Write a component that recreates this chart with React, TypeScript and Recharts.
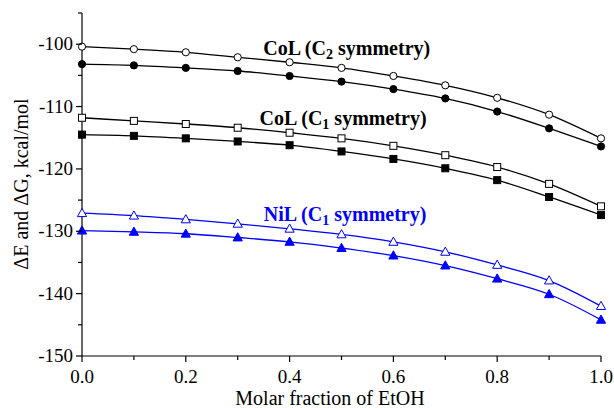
import { LineChart, Line, XAxis, YAxis, ReferenceDot, Label } from "recharts";

const molarFraction = [0, 0.1, 0.2, 0.3, 0.4, 0.5, 0.6, 0.7, 0.8, 0.9, 1.0];

// CoL, C2 symmetry
const coLC2Open = [-100.4, -100.8, -101.3, -102.1, -102.9, -103.8, -105.1, -106.6, -108.6, -111.3, -115.1];
const coLC2Filled = [-103.2, -103.4, -103.8, -104.3, -105.1, -106.0, -107.2, -108.7, -110.8, -113.5, -116.4];
// CoL, C1 symmetry
const coLC1Open = [-111.8, -112.3, -112.8, -113.4, -114.2, -115.1, -116.3, -117.8, -119.7, -122.4, -126.0];
const coLC1Filled = [-114.5, -114.7, -115.1, -115.6, -116.2, -117.2, -118.4, -119.9, -121.8, -124.5, -127.4];
// NiL, C1 symmetry
const niLC1Open = [-127.1, -127.5, -128.1, -128.8, -129.6, -130.5, -131.7, -133.3, -135.4, -137.9, -142.0];
const niLC1Filled = [-129.9, -130.1, -130.4, -131.0, -131.7, -132.7, -133.9, -135.5, -137.6, -140.1, -144.2];

const xTicks = [0, 0.1, 0.2, 0.3, 0.4, 0.5, 0.6, 0.7, 0.8, 0.9, 1.0];
const yTicks = [-150, -145, -140, -135, -130, -125, -120, -115, -110, -105, -100, -95];

const BLUE = "#0000ff";
const FONT = "'Liberation Serif', 'Times New Roman', serif";

const data = molarFraction.map((x, i) => ({
  x,
  c2o: coLC2Open[i],
  c2f: coLC2Filled[i],
  c1o: coLC1Open[i],
  c1f: coLC1Filled[i],
  n1o: niLC1Open[i],
  n1f: niLC1Filled[i]
}));

type Shape = "circle" | "square" | "triangle";

const marker = (shape: Shape, filled: boolean, color: string) => (props: any) => {
  const { cx, cy, index } = props;
  if (cx == null || cy == null) return <g key={`m-${index}`} />;
  const fill = filled ? color : "#fff";
  const key = `${shape}-${filled}-${index}`;
  if (shape === "circle") {
    return <circle key={key} cx={cx} cy={cy} r={3.6} fill={fill} stroke={color} strokeWidth={1} />;
  }
  if (shape === "square") {
    return <rect key={key} x={cx - 3.5} y={cy - 3.5} width={7} height={7} fill={fill} stroke={color} strokeWidth={1} />;
  }
  return (
    <polygon
      key={key}
      points={`${cx},${cy - 4.8} ${cx - 4.6},${cy + 3.4} ${cx + 4.6},${cy + 3.4}`}
      fill={fill}
      stroke={color}
      strokeWidth={1}
    />
  );
};

const XTick = (props: any) => {
  const { x, y, payload } = props;
  const v = payload.value as number;
  const major = Math.round(v * 10) % 2 === 0;
  return (
    <g>
      <line x1={x} x2={x} y1={y} y2={y + (major ? 6 : 4)} stroke="#000" strokeWidth={1.2} />
      {major && (
        <text x={x} y={y + 27} textAnchor="middle" fontSize={19} fontFamily={FONT} fill="#000">
          {v.toFixed(1)}
        </text>
      )}
    </g>
  );
};

const YTick = (props: any) => {
  const { x, y, payload } = props;
  const v = payload.value as number;
  const major = Math.abs(v % 10) === 0;
  return (
    <g>
      <line x1={x} x2={x - (major ? 6 : 4)} y1={y} y2={y} stroke="#000" strokeWidth={1.2} />
      {major && (
        <text x={x - 9} y={y + 6} textAnchor="end" fontSize={19} fontFamily={FONT} fill="#000">
          {v}
        </text>
      )}
    </g>
  );
};

const seriesLabel = (name: string, sub: string, color: string) => (props: any) => {
  const { cx, cy } = props;
  return (
    <text x={cx} y={cy} textAnchor="middle" fontSize={20} fontWeight="bold" fontFamily={FONT} fill={color}>
      <tspan>{`${name} (C`}</tspan>
      <tspan fontSize={14} dy={4}>{sub}</tspan>
      <tspan dy={-4}>{" symmetry)"}</tspan>
    </text>
  );
};

export default function App() {
  return (
    <div style={{ position: "absolute", left: 0, top: 0, width: 614, height: 408, background: "#fff" }}>
      <LineChart width={614} height={408} data={data} margin={{ top: 13, right: 13, bottom: 0, left: 0 }}>
        <XAxis
          dataKey="x"
          type="number"
          domain={[0, 1]}
          ticks={xTicks}
          interval={0}
          height={52}
          tickSize={0}
          tickMargin={0}
          tickLine={false}
          tick={(p: any) => <XTick {...p} />}
          axisLine={{ stroke: "#000", strokeWidth: 1.2 }}
        >
          <Label
            content={() => (
              <text x={330} y={405} textAnchor="middle" fontSize={20} fontFamily={FONT} fill="#000">
                Molar fraction of EtOH
              </text>
            )}
          />
        </XAxis>
        <YAxis
          type="number"
          domain={[-150, -95]}
          ticks={yTicks}
          interval={0}
          width={82}
          tickSize={0}
          tickMargin={0}
          tickLine={false}
          tick={(p: any) => <YTick {...p} />}
          axisLine={{ stroke: "#000", strokeWidth: 1.2 }}
        >
          <Label
            content={() => (
              <text
                x={28}
                y={184}
                transform="rotate(-90 28 184)"
                textAnchor="middle"
                fontSize={20}
                fontFamily={FONT}
                fill="#000"
              >
                ΔE and ΔG, kcal/mol
              </text>
            )}
          />
        </YAxis>
        <Line type="monotone" dataKey="c2o" stroke="#000" strokeWidth={1.3} dot={marker("circle", false, "#000")} isAnimationActive={false} />
        <Line type="monotone" dataKey="c2f" stroke="#000" strokeWidth={1.3} dot={marker("circle", true, "#000")} isAnimationActive={false} />
        <Line type="monotone" dataKey="c1o" stroke="#000" strokeWidth={1.3} dot={marker("square", false, "#000")} isAnimationActive={false} />
        <Line type="monotone" dataKey="c1f" stroke="#000" strokeWidth={1.3} dot={marker("square", true, "#000")} isAnimationActive={false} />
        <Line type="monotone" dataKey="n1o" stroke={BLUE} strokeWidth={1.3} dot={marker("triangle", false, BLUE)} isAnimationActive={false} />
        <Line type="monotone" dataKey="n1f" stroke={BLUE} strokeWidth={1.3} dot={marker("triangle", true, BLUE)} isAnimationActive={false} />
        <ReferenceDot x={0.51} y={-101.7} r={0} shape={seriesLabel("CoL", "2", "#000")} />
        <ReferenceDot x={0.503} y={-112.9} r={0} shape={seriesLabel("CoL", "1", "#000")} />
        <ReferenceDot x={0.507} y={-128.3} r={0} shape={seriesLabel("NiL", "1", BLUE)} />
      </LineChart>
    </div>
  );
}
